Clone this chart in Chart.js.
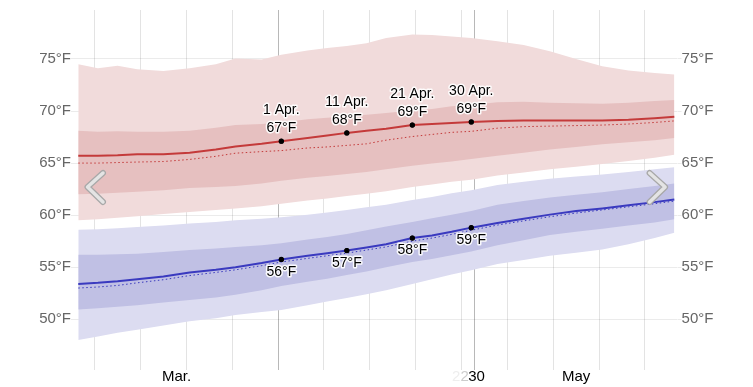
<!DOCTYPE html>
<html>
<head>
<meta charset="utf-8">
<script src="https://cdn.jsdelivr.net/npm/chart.js@4.4.1/dist/chart.umd.min.js"></script>
<style>
  html, body { margin: 0; padding: 0; background: #fff; }
</style>
</head>
<body>
<canvas id="chart" width="753" height="387"></canvas>
<script>
// day index, 0 = 1 Mar, 91 = 31 May
const days = [0, 3, 6, 9, 13, 17, 21, 24, 28, 31, 35, 38, 41, 44, 47, 51, 54, 57, 60, 64, 68, 72, 76, 80, 84, 88, 91];

// daily high temperature (°F)
const hiP90 = [74.5, 74.1, 74.35, 74.0, 73.85, 74.1, 74.5, 75.05, 74.95, 75.4, 75.8, 76.05, 76.25, 76.5, 77.0, 77.35, 77.3, 77.15, 77.0, 76.7, 76.35, 75.75, 75.0, 74.3, 73.9, 73.65, 73.5];
const hiP75 = [68.1, 68.0, 68.05, 68.0, 68.0, 68.1, 68.4, 68.65, 68.75, 68.9, 69.2, 69.35, 69.5, 69.65, 69.8, 70.05, 70.2, 70.45, 70.6, 70.85, 70.9, 70.8, 70.75, 70.7, 70.8, 70.95, 71.05];
const hiMean = [65.7, 65.7, 65.75, 65.85, 65.85, 66.0, 66.3, 66.6, 66.85, 67.1, 67.4, 67.65, 67.9, 68.1, 68.3, 68.65, 68.75, 68.85, 68.95, 69.05, 69.1, 69.1, 69.1, 69.1, 69.15, 69.3, 69.45];
const hiNormal = [65.0, 65.0, 65.05, 65.1, 65.15, 65.35, 65.65, 65.95, 66.1, 66.2, 66.45, 66.55, 66.7, 66.85, 67.2, 67.55, 67.75, 67.95, 68.05, 68.35, 68.5, 68.55, 68.6, 68.65, 68.75, 68.9, 69.05];
const hiP25 = [62.0, 62.05, 62.15, 62.25, 62.4, 62.6, 62.7, 62.8, 63.05, 63.3, 63.6, 63.75, 63.95, 64.15, 64.4, 64.75, 64.95, 65.15, 65.4, 65.7, 66.0, 66.3, 66.55, 66.8, 67.0, 67.2, 67.4];
const hiP10 = [59.5, 59.6, 59.75, 59.9, 60.1, 60.3, 60.5, 60.65, 60.85, 61.1, 61.4, 61.6, 61.85, 62.05, 62.3, 62.7, 62.95, 63.2, 63.4, 63.8, 64.1, 64.4, 64.65, 64.9, 65.2, 65.5, 65.8];

// daily low temperature (°F)
const loP90 = [58.6, 58.65, 58.75, 58.85, 59.0, 59.2, 59.35, 59.5, 59.65, 59.8, 60.05, 60.25, 60.5, 60.75, 61.0, 61.45, 61.75, 62.1, 62.4, 62.9, 63.2, 63.5, 63.7, 63.9, 64.15, 64.4, 64.6];
const loP75 = [56.2, 56.2, 56.25, 56.3, 56.45, 56.65, 56.8, 56.95, 57.1, 57.3, 57.65, 57.9, 58.2, 58.55, 58.9, 59.35, 59.7, 60.05, 60.4, 61.0, 61.35, 61.7, 61.95, 62.2, 62.5, 62.8, 63.05];
const loMean = [53.4, 53.5, 53.65, 53.85, 54.1, 54.5, 54.75, 55.0, 55.4, 55.75, 56.1, 56.35, 56.6, 56.9, 57.2, 57.8, 58.05, 58.4, 58.8, 59.25, 59.65, 60.05, 60.4, 60.65, 60.95, 61.25, 61.5];
const loNormal = [53.0, 53.1, 53.25, 53.5, 53.8, 54.2, 54.5, 54.75, 55.15, 55.5, 55.85, 56.1, 56.35, 56.65, 56.95, 57.5, 57.8, 58.15, 58.55, 59.05, 59.45, 59.85, 60.2, 60.5, 60.8, 61.1, 61.35];
const loP25 = [50.95, 51.05, 51.2, 51.35, 51.6, 51.85, 52.1, 52.35, 52.8, 53.2, 53.6, 53.9, 54.25, 54.6, 55.0, 55.5, 55.8, 56.15, 56.5, 57.1, 57.6, 58.1, 58.4, 58.7, 59.0, 59.3, 59.6];
const loP10 = [48.0, 48.35, 48.7, 49.0, 49.4, 49.8, 50.1, 50.4, 50.7, 50.9, 51.35, 51.7, 52.05, 52.4, 52.8, 53.4, 53.85, 54.3, 54.7, 55.3, 55.7, 56.1, 56.4, 56.7, 57.2, 57.8, 58.3];

// annotated days
const annDays = [31, 41, 51, 60];
const annDates = ['1 Apr.', '11 Apr.', '21 Apr.', '30 Apr.'];

// axis ticks
const yTicks = [50, 55, 60, 65, 70, 75];
const weekDays = [2.5, 9.5, 16.5, 23.5, 30.5, 37.5, 44.5, 51.5, 58.5, 65.5, 72.5, 79.5, 86.5];
const monthDays = [30.5, 60.5];
const labelDays = [15, 57.7, 59.0, 60.8, 76];
const labelTexts = ['Mar.', '2', '2', '30', 'May'];
const labelColors = ['#000', '#eee', '#ccc', '#000', '#000'];

const FONT = '"Liberation Sans", Arial, Helvetica, sans-serif';
Chart.defaults.font.family = FONT;

function pts(arr) {
  return days.map((d, i) => ({ x: d, y: arr[i] }));
}
function annPts(arr) {
  return annDays.map(d => ({ x: d, y: arr[days.indexOf(d)] }));
}
function band(arr, target, color) {
  return { data: pts(arr), fill: target, backgroundColor: color, borderWidth: 0, pointRadius: 0 };
}
function edge(arr) {
  return { data: pts(arr), fill: false, borderWidth: 0, pointRadius: 0 };
}

const RED = '#c43a3a';
const BLUE = '#3a3abf';

const annotations = {
  id: 'annotations',
  afterDraw(chart) {
    const ctx = chart.ctx;
    ctx.save();
    ctx.font = '14px ' + FONT;
    ctx.textAlign = 'center';
    ctx.textBaseline = 'middle';
    ctx.lineJoin = 'round';
    const halo = (t, x, y) => {
      ctx.strokeStyle = 'rgba(255,255,255,0.9)';
      ctx.lineWidth = 3;
      ctx.strokeText(t, x, y);
      ctx.fillStyle = '#000';
      ctx.fillText(t, x, y);
    };
    chart.getDatasetMeta(0).data.forEach((p, i) => {
      const v = chart.data.datasets[0].data[i].y;
      halo(annDates[i], p.x, p.y - 31);
      halo(Math.round(v) + '°F', p.x, p.y - 13);
    });
    chart.getDatasetMeta(1).data.forEach((p, i) => {
      const v = chart.data.datasets[1].data[i].y;
      halo(Math.round(v) + '°F', p.x, p.y + 12.5);
    });
    // redraw dots above the text halo
    [0, 1].forEach(k => chart.getDatasetMeta(k).data.forEach(p => {
      ctx.beginPath();
      ctx.arc(p.x, p.y, 2.6, 0, Math.PI * 2);
      ctx.fillStyle = '#000';
      ctx.fill();
    }));

    // navigation chevrons
    const a = chart.chartArea;
    const chevron = (pts) => {
      ctx.lineCap = 'round';
      ctx.lineJoin = 'round';
      ctx.beginPath();
      ctx.moveTo(pts[0][0], pts[0][1]);
      ctx.lineTo(pts[1][0], pts[1][1]);
      ctx.lineTo(pts[2][0], pts[2][1]);
      ctx.strokeStyle = '#a8a8a8';
      ctx.lineWidth = 6;
      ctx.stroke();
      ctx.strokeStyle = '#e4e4e4';
      ctx.lineWidth = 3.5;
      ctx.stroke();
    };
    chevron([[a.left + 28, 173], [a.left + 12.5, 187], [a.left + 28, 202]]);
    chevron([[a.right - 28, 173], [a.right - 12.5, 187], [a.right - 28, 202]]);
    ctx.restore();
  }
};

new Chart(document.getElementById('chart'), {
  type: 'line',
  data: {
    datasets: [
      { data: annPts(hiMean), showLine: false, pointRadius: 2.5, pointBackgroundColor: '#000', pointBorderWidth: 0 },
      { data: annPts(loMean), showLine: false, pointRadius: 2.5, pointBackgroundColor: '#000', pointBorderWidth: 0 },
      { data: pts(hiMean), borderColor: RED, borderWidth: 2, pointRadius: 0, fill: false },
      { data: pts(hiNormal), borderColor: RED, borderWidth: 1, borderDash: [1.5, 2.5], pointRadius: 0, fill: false },
      { data: pts(loMean), borderColor: BLUE, borderWidth: 2, pointRadius: 0, fill: false },
      { data: pts(loNormal), borderColor: BLUE, borderWidth: 1, borderDash: [1.5, 2.5], pointRadius: 0, fill: false },
      band(hiP75, 7, '#e6c0c0'),
      edge(hiP25),
      band(loP75, 9, '#c0c0e4'),
      edge(loP25),
      band(hiP90, 11, '#f1dbdb'),
      edge(hiP10),
      band(loP90, 13, '#dcdcf1'),
      edge(loP10)
    ]
  },
  options: {
    responsive: false,
    animation: false,
    layout: { padding: { top: 10, left: 0, right: 0, bottom: 0 } },
    plugins: { legend: { display: false }, tooltip: { enabled: false } },
    elements: { line: { tension: 0 } },
    scales: {
      x: {
        type: 'linear',
        min: -0.5,
        max: 91.5,
        z: 1,
        border: { display: false },
        afterBuildTicks: s => { s.ticks = weekDays.concat(monthDays.filter(d => !weekDays.includes(d)), labelDays).map(v => ({ value: v })); },
        afterFit: s => { s.height = 17; },
        grid: {
          drawTicks: false,
          color: c => {
            const v = c.tick.value;
            if (monthDays.includes(v)) return 'rgba(0,0,0,0.28)';
            if (weekDays.includes(v)) return 'rgba(0,0,0,0.11)';
            return 'rgba(0,0,0,0)';
          }
        },
        ticks: {
          autoSkip: false,
          maxRotation: 0,
          padding: -2,
          font: { size: 15 },
          color: c => {
            const i = labelDays.indexOf(c.tick.value);
            return i >= 0 ? labelColors[i] : '#000';
          },
          callback: v => {
            const i = labelDays.indexOf(v);
            return i >= 0 ? labelTexts[i] : '';
          }
        }
      },
      y: {
        position: 'left',
        min: 45.13,
        max: 79.7,
        z: 1,
        border: { display: false },
        afterBuildTicks: s => { s.ticks = yTicks.map(v => ({ value: v })); },
        afterFit: s => { s.width = 75; },
        grid: { color: 'rgba(0,0,0,0.08)', tickLength: 4 },
        ticks: { padding: 0, color: '#666', font: { size: 15 }, callback: v => v + '°F' }
      },
      y2: {
        position: 'right',
        min: 45.13,
        max: 79.7,
        z: 1,
        border: { display: false },
        afterBuildTicks: s => { s.ticks = yTicks.map(v => ({ value: v })); },
        afterFit: s => { s.width = 75.4; },
        grid: { color: 'rgba(0,0,0,0.08)', tickLength: 4, drawOnChartArea: false },
        ticks: { padding: 0, color: '#666', font: { size: 15 }, callback: v => v + '°F' }
      }
    }
  },
  plugins: [annotations]
});
</script>
</body>
</html>
